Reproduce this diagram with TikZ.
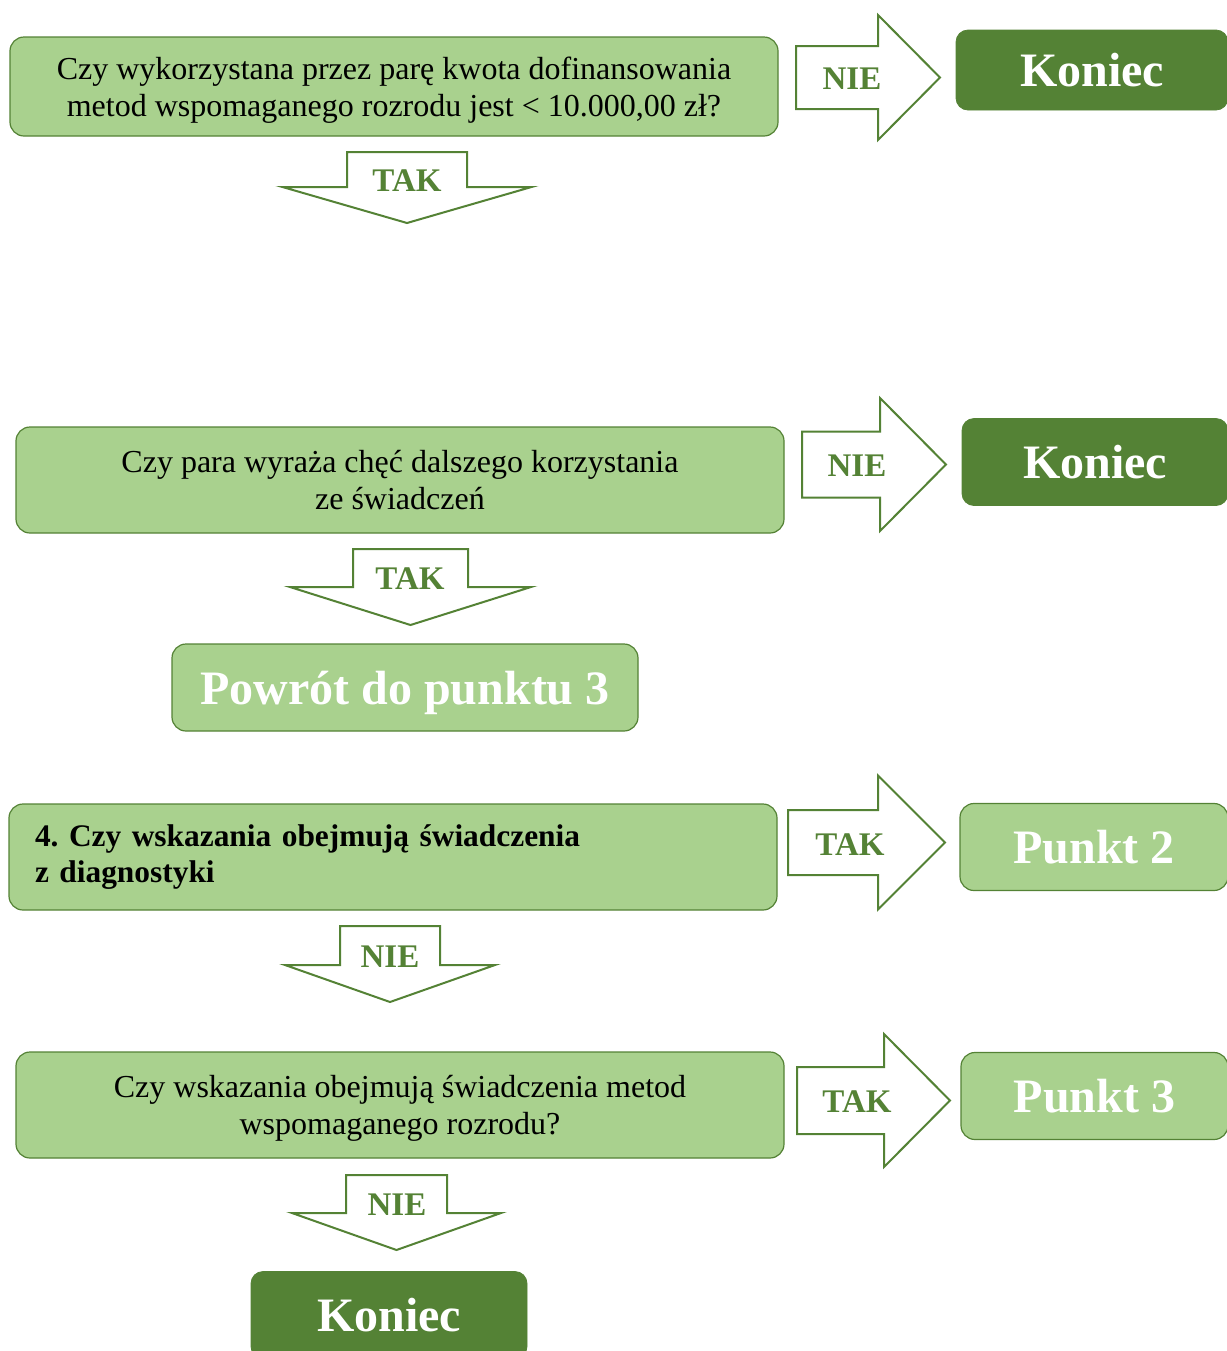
\documentclass[tikz,border=0pt]{standalone}
\usepackage{fontspec}
\setmainfont{Liberation Serif}
\frenchspacing
\definecolor{flowLight}{RGB}{169,209,142}
\definecolor{flowDark}{RGB}{84,130,53}

\begin{document}
\begin{tikzpicture}[x=0.5pt,y=-0.5pt,
    qbox/.style={draw=flowDark,fill=flowLight,rounded corners=7pt,line width=0.6pt,text depth=0pt,
      minimum width=384pt,minimum height=53pt,align=center,font=\fontsize{16}{18.5}\selectfont},
    endbox/.style={draw=flowDark,fill=flowDark,rounded corners=6pt,text=white,text depth=0pt,
      minimum height=43.5pt,font=\fontsize{24}{28}\selectfont\bfseries},
    jumpbox/.style={qbox,text=white,minimum height=43.5pt,font=\fontsize{24}{28}\selectfont\bfseries},
    blockarrow/.style={draw=flowDark,line width=1pt,fill=white},
    arrowlab/.style={text=flowDark,inner sep=0pt,font=\fontsize{16.5}{18}\selectfont\bfseries}]
    \useasboundingbox (0,0) rectangle (1227,1351);

    % pytania i wyniki
    \node[qbox,minimum height=49.5pt] (kwota) at (394,86.5)
      {Czy wykorzystana przez parę kwota dofinansowania\\metod wspomaganego rozrodu jest < 10.000,00 zł?};
    \node[endbox,minimum width=136pt,minimum height=40pt] (koniecA) at (1092,70) {Koniec};
    \node[qbox] (chec) at (400,480) {Czy para wyraża chęć dalszego korzystania\\ze świadczeń};
    \node[endbox,minimum width=133pt] (koniecB) at (1095,462) {Koniec};
    \node[jumpbox,minimum width=233pt] (powrot) at (405,687.5) {Powrót do punktu 3};
    \node[qbox,text depth=,align=left,inner xsep=13pt,text width=358pt,
      font=\fontsize{15.7}{18}\selectfont\bfseries] (diagn) at (393,857)
      {4. Czy wskazania obejmują świadczenia\\z diagnostyki};
    \node[jumpbox,minimum width=134pt] (punktB) at (1094,847) {Punkt 2};
    \node[qbox] (metod) at (400,1105) {Czy wskazania obejmują świadczenia metod\\wspomaganego rozrodu?};
    \node[jumpbox,minimum width=133.5pt] (punktC) at (1094.5,1096) {Punkt 3};
    \node[endbox,minimum width=138pt] (koniecC) at (389,1315) {Koniec};

    % strzalki w prawo
    \foreach \ya/\xa/\xb/\xc/\sh/\hd in {77.5/796/878/940/31.5/62.5,464.5/802/880/946/33/66.5,
        842.5/788/878/945/32.5/67,1100.5/797/884/950/33.5/66.5}{
      \draw[blockarrow] (\xa,\ya-\sh) -- (\xb,\ya-\sh) -- (\xb,\ya-\hd) -- (\xc,\ya)
        -- (\xb,\ya+\hd) -- (\xb,\ya+\sh) -- (\xa,\ya+\sh) -- cycle;
    }
    % strzalki w dol
    \foreach \xm/\ya/\yb/\yc/\sw/\hw in {407/152/187/223/60/124.5,410.5/549/587/625/57.5/120.5,
        390/926/965/1002/50/105,396.5/1175/1213/1250/50.5/104.5}{
      \draw[blockarrow] (\xm-\sw,\ya) -- (\xm+\sw,\ya) -- (\xm+\sw,\yb) -- (\xm+\hw,\yb)
        -- (\xm,\yc) -- (\xm-\hw,\yb) -- (\xm-\sw,\yb) -- cycle;
    }

    \node[arrowlab] (nieA) at (852,79) {NIE};
    \node[arrowlab] (nieB) at (857,466) {NIE};
    \node[arrowlab] (takC) at (850,845) {TAK};
    \node[arrowlab] (takD) at (857,1102) {TAK};
    \node[arrowlab] (takA) at (407,181) {TAK};
    \node[arrowlab] (takB) at (410,579) {TAK};
    \node[arrowlab] (nieC) at (390,957) {NIE};
    \node[arrowlab] (nieD) at (397,1205) {NIE};
  \end{tikzpicture}
\end{document}
